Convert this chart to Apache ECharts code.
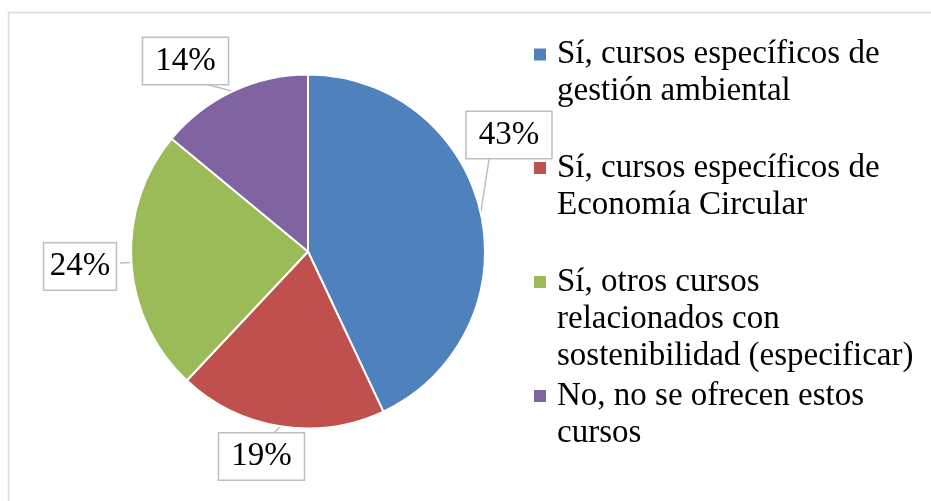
<!DOCTYPE html>
<html>
<head>
<meta charset="utf-8">
<script src="https://cdn.jsdelivr.net/npm/echarts@6/dist/echarts.min.js"></script>
<style>
  html, body { margin: 0; padding: 0; background: #fff; }
  #chart { width: 931px; height: 501px; }
</style>
</head>
<body>
<div id="chart"></div>
<script>
// Course offering categories and their share (%)
const categories = [
  'Sí, cursos específicos de gestión ambiental',
  'Sí, cursos específicos de Economía Circular',
  'Sí, otros cursos relacionados con sostenibilidad (especificar)',
  'No, no se ofrecen estos cursos'
];
const legendLines = [
  ['Sí, cursos específicos de', 'gestión ambiental'],
  ['Sí, cursos específicos de', 'Economía Circular'],
  ['Sí, otros cursos', 'relacionados con', 'sostenibilidad (especificar)'],
  ['No, no se ofrecen estos', 'cursos']
];
const shares = [43, 19, 24, 14];
const colors = ['#4F81BD', '#C0504D', '#9BBB59', '#8064A2'];

const FONT = '"Liberation Serif", "Times New Roman", serif';
const FS = 33;
const LH = 37;
const TEXT_DROP = 8; // extra top padding: sets text slightly below the marker centre

// Callout placement for each percentage label: box centre and the point
// on the box where the pointer attaches.
const callouts = [
  { x: 509, y: 135, tail: [490, 153] },
  { x: 261.5, y: 456.5, tail: [274, 433] },
  { x: 80, y: 266.5, tail: [120, 263] },
  { x: 185.5, y: 61, tail: [205, 84] }
];
// Vertical centre of each legend marker
const legendMarkerY = [54.5, 168, 282, 396];

const chart = echarts.init(document.getElementById('chart'), null, { renderer: 'canvas' });

// One legend per entry so each block can sit at its own height; blank
// leading lines keep the marker level with the first text line.
const legends = categories.map((name, i) => {
  const n = legendLines[i].length;
  return {
    orient: 'vertical',
    left: 534,
    top: legendMarkerY[i] - ((2 * n - 1) * LH + TEXT_DROP) / 2,
    padding: 0,
    itemWidth: 12,
    itemHeight: 12,
    itemGap: 0,
    icon: 'rect',
    selectedMode: false,
    itemStyle: { borderWidth: 0 },
    data: [name],
    formatter: () => '\n'.repeat(n - 1) + legendLines[i].join('\n'),
    textStyle: {
      fontFamily: FONT,
      fontSize: FS,
      lineHeight: LH,
      color: '#000',
      padding: [TEXT_DROP, 0, 0, 6]
    }
  };
});

chart.setOption({
  backgroundColor: '#fff',
  animation: false,
  color: colors,
  graphic: [{
    type: 'rect',
    silent: true,
    shape: { x: 8.5, y: 12.5, width: 940, height: 500 },
    style: { fill: 'none', stroke: '#d9d9d9', lineWidth: 1.5 }
  }],
  legend: legends,
  series: [{
    type: 'pie',
    center: [308, 251.5],
    radius: 177,
    startAngle: 90,
    clockwise: true,
    data: categories.map((name, i) => ({ name, value: shares[i] })),
    itemStyle: { borderColor: '#fff', borderWidth: 2 },
    label: {
      show: true,
      position: 'outside',
      alignTo: 'none',
      overflow: 'none',
      formatter: '{c}%',
      fontFamily: FONT,
      fontSize: FS,
      lineHeight: 34,
      color: '#000',
      backgroundColor: '#fff',
      borderColor: '#bfbfbf',
      borderWidth: 1.5,
      padding: [6, 12, 6, 12]
    },
    labelLine: {
      show: true,
      lineStyle: { color: '#bfbfbf', width: 1.5 }
    },
    labelLayout: function (params) {
      const c = callouts[params.dataIndex];
      const start = params.labelLinePoints ? params.labelLinePoints[0] : c.tail;
      return {
        x: c.x,
        y: c.y,
        align: 'center',
        verticalAlign: 'middle',
        labelLinePoints: [start, c.tail, c.tail]
      };
    },
    emphasis: { disabled: true }
  }]
});
</script>
</body>
</html>
